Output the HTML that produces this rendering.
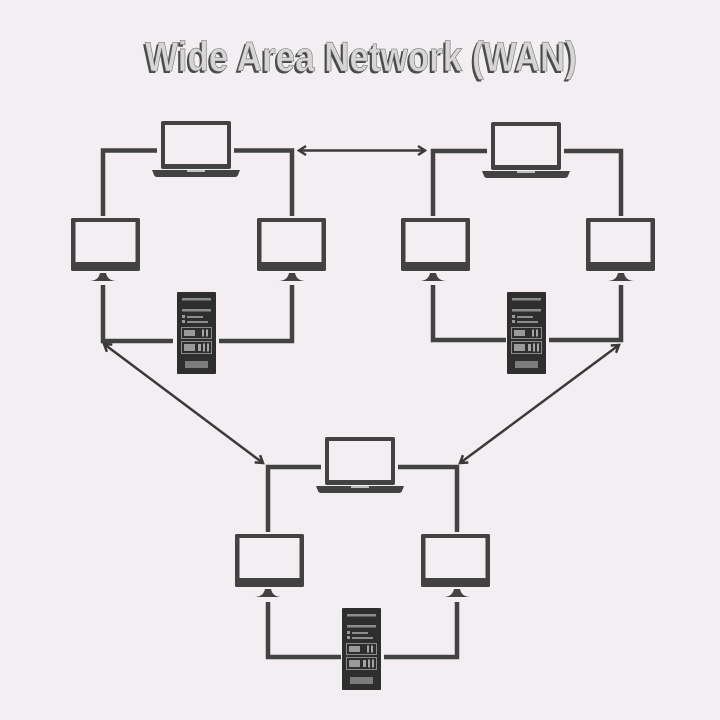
<!DOCTYPE html>
<html>
<head>
<meta charset="utf-8">
<style>
  html,body{margin:0;padding:0;background:#f2eef2;}
  svg{display:block;}
</style>
</head>
<body>
<svg width="720" height="720" viewBox="0 0 720 720" xmlns="http://www.w3.org/2000/svg">
  <defs>
    <g id="laptop">
      <rect x="0" y="0" width="70" height="48" rx="2" fill="#424242"/>
      <rect x="4" y="4" width="62" height="39" fill="#f2eef2"/>
      <path d="M-9,49 L79,49 L77,54 Q76,56 74,56 L-4,56 Q-6,56 -7,54 Z" fill="#424242"/>
      <rect x="26" y="49" width="18" height="2" fill="#bdbdbd"/>
    </g>
    <g id="monitor">
      <rect x="0" y="0" width="69" height="53" rx="1.5" fill="#424242"/>
      <rect x="4.5" y="4" width="60" height="40" fill="#f2eef2"/>
    </g>
    <g id="stand">
      <path d="M-13,10 C-6,9.5 -4,6 -3,2 L3,2 C4,6 6,9.5 13,10 Z" fill="#424242"/>
    </g>
    <g id="server">
      <rect x="0" y="0" width="39" height="82" rx="1" fill="#2e2e2e"/>
      <rect x="5" y="6" width="29" height="2.5" fill="#8c8c8c"/>
      <rect x="5" y="17" width="29" height="2.5" fill="#8c8c8c"/>
      <rect x="5" y="23" width="3" height="3" fill="#9a9a9a"/>
      <rect x="5" y="28" width="3" height="3" fill="#9a9a9a"/>
      <rect x="10" y="24" width="16" height="2" fill="#8c8c8c"/>
      <rect x="10" y="29" width="21" height="2" fill="#8c8c8c"/>
      <rect x="4.5" y="35.5" width="30" height="11" fill="none" stroke="#8c8c8c" stroke-width="1"/>
      <rect x="7" y="38" width="11" height="6" fill="#9a9a9a"/>
      <rect x="25" y="37.5" width="2" height="7" fill="#a5a5a5"/>
      <rect x="29" y="37.5" width="2" height="7" fill="#a5a5a5"/>
      <rect x="4.5" y="49.5" width="30" height="12" fill="none" stroke="#8c8c8c" stroke-width="1"/>
      <rect x="7" y="52" width="11" height="7" fill="#9a9a9a"/>
      <rect x="21" y="52" width="3" height="7" fill="#a5a5a5"/>
      <rect x="26" y="51.5" width="2" height="8" fill="#a5a5a5"/>
      <rect x="30" y="51.5" width="2" height="8" fill="#a5a5a5"/>
      <rect x="8" y="69" width="23" height="7" fill="#7c7c7c"/>
    </g>
    <marker id="chev" markerUnits="userSpaceOnUse" markerWidth="12" markerHeight="12" refX="9" refY="6" orient="auto-start-reverse">
      <path d="M2,1.5 L9,6 L2,10.5" fill="none" stroke="#3a3a3a" stroke-width="2.5" stroke-linejoin="miter"/>
    </marker>
  </defs>

  <!-- Title -->
  <text x="359" y="73" text-anchor="middle" font-family="'Liberation Sans', sans-serif" font-weight="bold" font-size="42" textLength="432" lengthAdjust="spacingAndGlyphs" fill="#4a4a4a">Wide Area Network (WAN)</text>
  <text x="361" y="71" text-anchor="middle" font-family="'Liberation Sans', sans-serif" font-weight="bold" font-size="42" textLength="432" lengthAdjust="spacingAndGlyphs" fill="#d6d6d6" stroke="#6a6a6a" stroke-width="0.6">Wide Area Network (WAN)</text>

  <!-- Connector lines -->
  <g fill="none" stroke="#424242" stroke-width="4.5" stroke-linejoin="miter" stroke-linecap="butt">
    <!-- cluster 1 -->
    <path d="M157,150.5 H103 V216"/>
    <path d="M234,150.5 H292 V216"/>
    <path d="M103,285 V341 H173"/>
    <path d="M219,341 H292 V285"/>
    <!-- cluster 2 -->
    <path d="M487,151 H433 V216"/>
    <path d="M564,151 H621 V216"/>
    <path d="M433,285 V340 H506"/>
    <path d="M549,340 H621 V285"/>
    <!-- cluster 3 -->
    <path d="M321,467 H268 V532"/>
    <path d="M398,467 H457 V532"/>
    <path d="M268,602 V657 H341"/>
    <path d="M384,657 H457 V602"/>
  </g>

  <!-- WAN arrows -->
  <g stroke="#3a3a3a" stroke-width="2.5" fill="none">
    <line x1="299" y1="150.5" x2="425" y2="150.5" marker-start="url(#chev)" marker-end="url(#chev)"/>
    <line x1="104" y1="344" x2="263" y2="463" marker-start="url(#chev)" marker-end="url(#chev)"/>
    <line x1="619" y1="345" x2="460" y2="463" marker-start="url(#chev)" marker-end="url(#chev)"/>
  </g>

  <!-- Laptops -->
  <use href="#laptop" x="161" y="121"/>
  <use href="#laptop" x="491" y="122"/>
  <use href="#laptop" x="325" y="437"/>

  <!-- Monitors -->
  <use href="#monitor" x="71" y="218"/>
  <use href="#monitor" x="257" y="218"/>
  <use href="#monitor" x="401" y="218"/>
  <use href="#monitor" x="586" y="218"/>
  <use href="#monitor" x="235" y="534"/>
  <use href="#monitor" x="421" y="534"/>

  <!-- Stands -->
  <use href="#stand" x="103" y="271"/>
  <use href="#stand" x="292" y="271"/>
  <use href="#stand" x="433" y="271"/>
  <use href="#stand" x="621" y="271"/>
  <use href="#stand" x="268" y="587"/>
  <use href="#stand" x="457" y="587"/>

  <!-- Servers -->
  <use href="#server" x="177" y="292"/>
  <use href="#server" x="507" y="292"/>
  <use href="#server" x="342" y="608"/>
</svg>
</body>
</html>
